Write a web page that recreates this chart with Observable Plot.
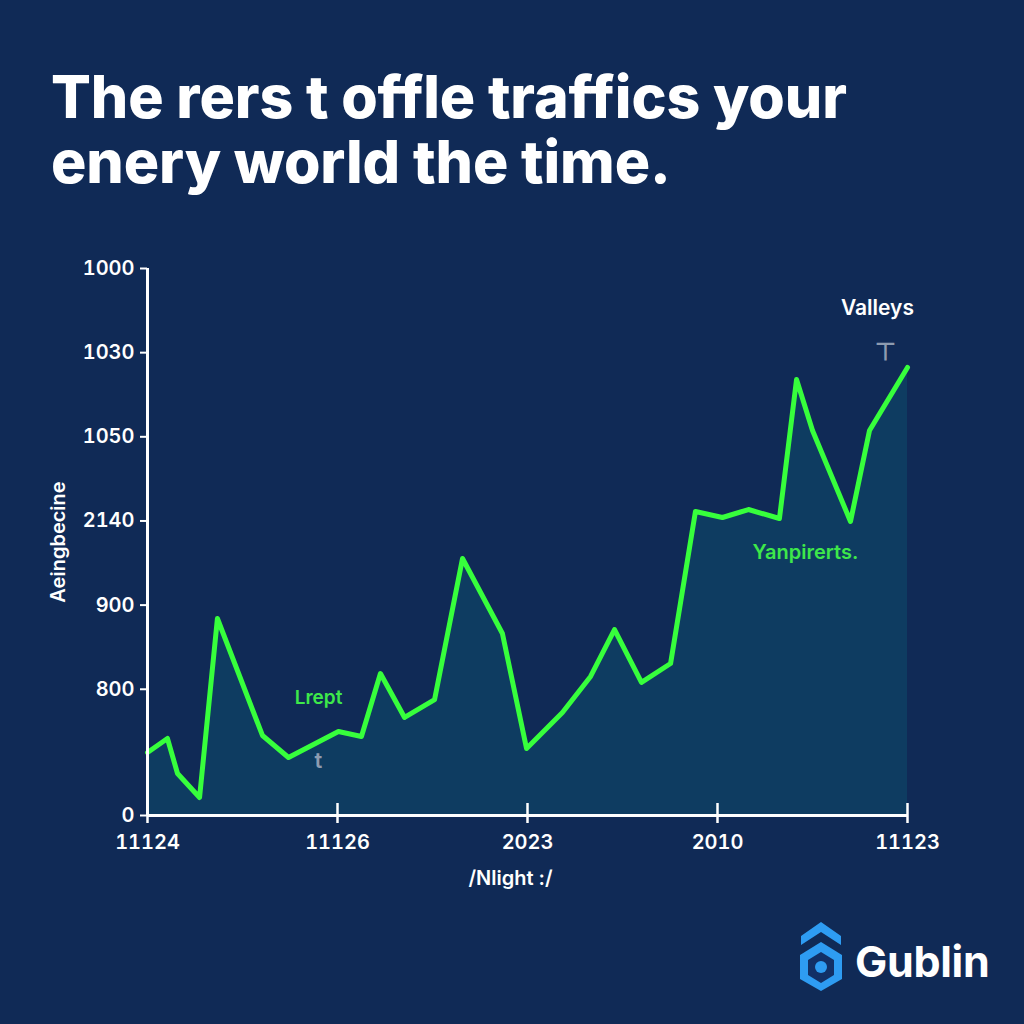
<!DOCTYPE html>
<html>
<head>
<meta charset="utf-8">
<script src="https://cdn.jsdelivr.net/npm/d3@7"></script>
<script src="https://cdn.jsdelivr.net/npm/@observablehq/plot@0.6"></script>
<style>
  html, body { margin: 0; padding: 0; }
  body { width: 1024px; height: 1024px; background: #102a56; position: relative; overflow: hidden; font-family: Inter, "Open Sans", sans-serif; }
  #title { position: absolute; left: 51px; top: 64px; color: #fff; font: 800 59px/65px Inter, sans-serif; letter-spacing: -0.1px; white-space: nowrap; }
  #chart { position: absolute; left: 0; top: 240px; }
  #logo { position: absolute; left: 798px; top: 918px; display: flex; align-items: center; }
  #logo span { color: #fff; font: 700 43px Inter, sans-serif; margin-left: 11px; margin-top: 10px; letter-spacing: -0.3px; }
</style>
</head>
<body>
<div id="title">The rers t offle traffics your<br>enery world the time.</div>
<div id="chart"></div>
<div id="logo">
  <svg width="46" height="76" viewBox="0 0 46 76">
    <path d="M3 18 L23 4 L43 18 L43 27 L23 14 L3 27 Z" fill="#2e9cf2"/>
    <path d="M23 24 L44 37 L44 61 L23 73 L2 61 L2 37 Z" fill="#2e9cf2"/>
    <path d="M23 34 L36 42 L36 57 L23 65 L10 57 L10 42 Z" fill="#123066"/>
    <circle cx="23" cy="49" r="6" fill="#2e9cf2"/>
  </svg>
  <span>Gublin</span>
</div>
<script>
// x positions (tick units) and values (tick-slot units)
const xs = [0, 0.105, 0.158, 0.274, 0.368, 0.605, 0.742, 1.005, 1.126, 1.226, 1.353, 1.511, 1.658, 1.868, 1.995, 2.184, 2.332, 2.458, 2.6, 2.753, 2.884, 3.026, 3.163, 3.326, 3.416, 3.5, 3.7, 3.8, 4.0];
const ys = [0.749, 0.915, 0.499, 0.214, 2.341, 0.951, 0.689, 0.998, 0.939, 1.687, 1.165, 1.378, 3.054, 2.163, 0.796, 1.224, 1.652, 2.21, 1.581, 1.806, 3.613, 3.541, 3.636, 3.529, 5.181, 4.575, 3.494, 4.575, 5.324];

const yTickPos = [0, 1.5, 2.5, 3.5, 4.5, 5.5, 6.5];
const yTickLabels = ["0", "800", "900", "2140", "1050", "1030", "1000"];
const xTickPos = [0, 1, 2, 3, 4];
const xTickLabels = ["11124", "11126", "2023", "2010", "11123"];
const yLabel = "Aeingbecine";
const xLabel = "/Nlight :/";

const annText = ["Valleys", "⊤", "Lrept", "t", "Yanpirerts."];
const annX = [3.842, 3.884, 0.9, 0.9, 3.463];
const annY = [6.025, 5.50, 1.402, 0.654, 3.125];
const annColor = ["#ffffff", "#8d9bb0", "#3ee84a", "#8d9bb0", "#3ee84a"];
const annSize = [21, 24, 19, 22, 20];
const annWeight = [700, 300, 600, 300, 600];

const data = xs.map((x, i) => ({x, y: ys[i]}));
const ann = annText.map((t, i) => ({t, x: annX[i], y: annY[i], c: annColor[i], s: annSize[i], w: annWeight[i]}));

const chart = Plot.plot({
  width: 1024,
  height: 680,
  marginLeft: 147,
  marginRight: 117,
  marginTop: 28,
  marginBottom: 105,
  style: { background: "transparent", color: "#ffffff", fontFamily: "Inter, sans-serif", fontSize: "20px", fontWeight: 600 },
  x: { domain: [0, 4] },
  y: { domain: [0, 6.5] },
  marks: [
    Plot.areaY(data, { x: "x", y: "y", fill: "#0f3d62", fillOpacity: 0.95 }),
    Plot.lineY(data, { x: "x", y: "y", stroke: "#37ff3c", strokeWidth: 5, strokeLinejoin: "round" }),
    Plot.ruleY([0], { stroke: "#ffffff", strokeWidth: 3 }),
    Plot.ruleX([0], { stroke: "#ffffff", strokeWidth: 3 }),
    Plot.axisY({ ticks: yTickPos, tickFormat: (d) => yTickLabels[yTickPos.indexOf(d)], tickSize: 7, tickPadding: 6, stroke: "#fff", strokeWidth: 2, label: null }),
    Plot.axisX({ ticks: xTickPos, tickFormat: (d) => xTickLabels[xTickPos.indexOf(d)], tickSize: 8, tickPadding: 11, stroke: "#fff", strokeWidth: 2.5, label: null }),
    Plot.axisX({ ticks: xTickPos, tickSize: -12, tickFormat: () => "", label: null, stroke: "#fff", strokeWidth: 2.5 }),
    Plot.text([yLabel], { frameAnchor: "left", rotate: -90, dx: -89, fill: "#fff", fontSize: 20, fontWeight: 600, textAnchor: "middle" }),
    Plot.text([xLabel], { frameAnchor: "bottom", dy: 69, dx: -17, fill: "#fff", fontSize: 20, fontWeight: 600 }),
    Plot.text(ann, { x: "x", y: "y", text: "t", fill: "c", fontSize: "s", fontWeight: "w" })
  ]
});
document.getElementById("chart").appendChild(chart);
</script>
</body>
</html>
